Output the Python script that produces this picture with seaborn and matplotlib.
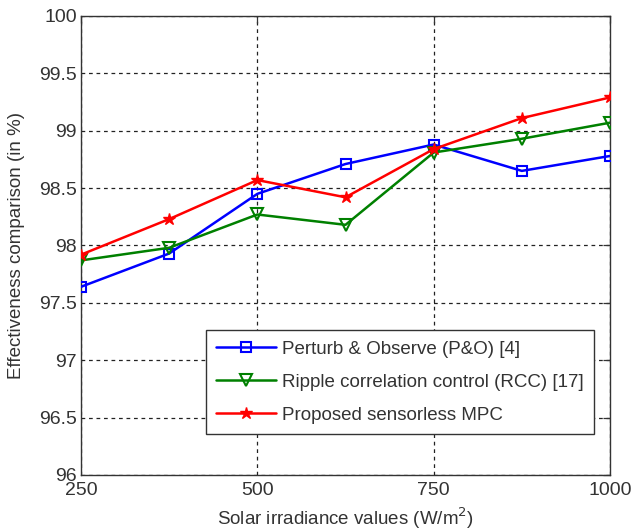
import matplotlib
matplotlib.use("Agg")
import matplotlib.pyplot as plt
import seaborn as sns
import pandas as pd

# Solar irradiance levels (W/m^2)
irradiance = [250, 375, 500, 625, 750, 875, 1000]

# Tracking effectiveness (%) for each method
po_values = [97.64, 97.93, 98.45, 98.71, 98.88, 98.65, 98.78]
rcc_values = [97.87, 97.98, 98.27, 98.18, 98.81, 98.93, 99.07]
mpc_values = [97.92, 98.23, 98.57, 98.42, 98.84, 99.11, 99.29]

series_names = [
    "Perturb & Observe (P&O) [4]",
    "Ripple correlation control (RCC) [17]",
    "Proposed sensorless MPC",
]

x_ticks = [250, 500, 750, 1000]
y_ticks = [96, 96.5, 97, 97.5, 98, 98.5, 99, 99.5, 100]
y_tick_labels = ["96", "96.5", "97", "97.5", "98", "98.5", "99", "99.5", "100"]

df = pd.DataFrame({
    "irradiance": irradiance * 3,
    "value": po_values + rcc_values + mpc_values,
    "method": [series_names[0]] * 7 + [series_names[1]] * 7 + [series_names[2]] * 7,
})

sns.set_style("white")
plt.rcParams["font.family"] = ["Liberation Sans", "DejaVu Sans"]

fig = plt.figure(figsize=(6.31, 5.31), dpi=100)
ax = fig.add_axes([0.1284, 0.1055, 0.8383, 0.8644])

styles = {
    series_names[0]: dict(color="#0000ff", marker="s", markersize=7.5,
                          markerfacecolor="none", markeredgewidth=1.5),
    series_names[1]: dict(color="#008000", marker="v", markersize=8.5,
                          markerfacecolor="none", markeredgewidth=1.5),
    series_names[2]: dict(color="#ff0000", marker="*", markersize=9,
                          markerfacecolor="#ff0000", markeredgewidth=1.0),
}

for name in series_names:
    sub = df[df["method"] == name]
    st = styles[name]
    sns.lineplot(data=sub, x="irradiance", y="value", ax=ax, label=name,
                 color=st["color"], linewidth=1.8, marker=st["marker"],
                 markersize=st["markersize"], markerfacecolor=st["markerfacecolor"],
                 markeredgecolor=st["color"], markeredgewidth=st["markeredgewidth"],
                 zorder=3)

ax.set_xlim(250, 1000)
ax.set_ylim(96, 100)
ax.set_xticks(x_ticks)
ax.set_xticklabels([str(t) for t in x_ticks])
ax.set_yticks(y_ticks)
ax.set_yticklabels(y_tick_labels)

ax.grid(True, color="#222222", linestyle=(0, (3, 3)), linewidth=0.9, zorder=1)
ax.tick_params(direction="in", top=True, right=True, length=5, width=0.9,
               labelsize=14, colors="#333333", labelcolor="#333333")
ax.tick_params(axis="x", pad=5)
ax.tick_params(axis="y", pad=3)
for sp in ax.spines.values():
    sp.set_color("#333333")
    sp.set_linewidth(1.0)

ax.set_xlabel("Solar irradiance values (W/m$^2$)", fontsize=13.5, color="#333333", labelpad=5)
ax.set_ylabel("Effectiveness comparison (in %)", fontsize=13.5, color="#333333", labelpad=10)

leg = ax.legend(loc="lower right", bbox_to_anchor=(0.97, 0.089), fontsize=13.5,
                frameon=True, fancybox=False, framealpha=1, edgecolor="#333333",
                borderpad=0.55, labelspacing=0.85, handlelength=3.2, handletextpad=0.3,
                borderaxespad=0)
leg.get_frame().set_linewidth(1.0)
for t in leg.get_texts():
    t.set_color("#333333")

fig.savefig("out.png", dpi=100)
